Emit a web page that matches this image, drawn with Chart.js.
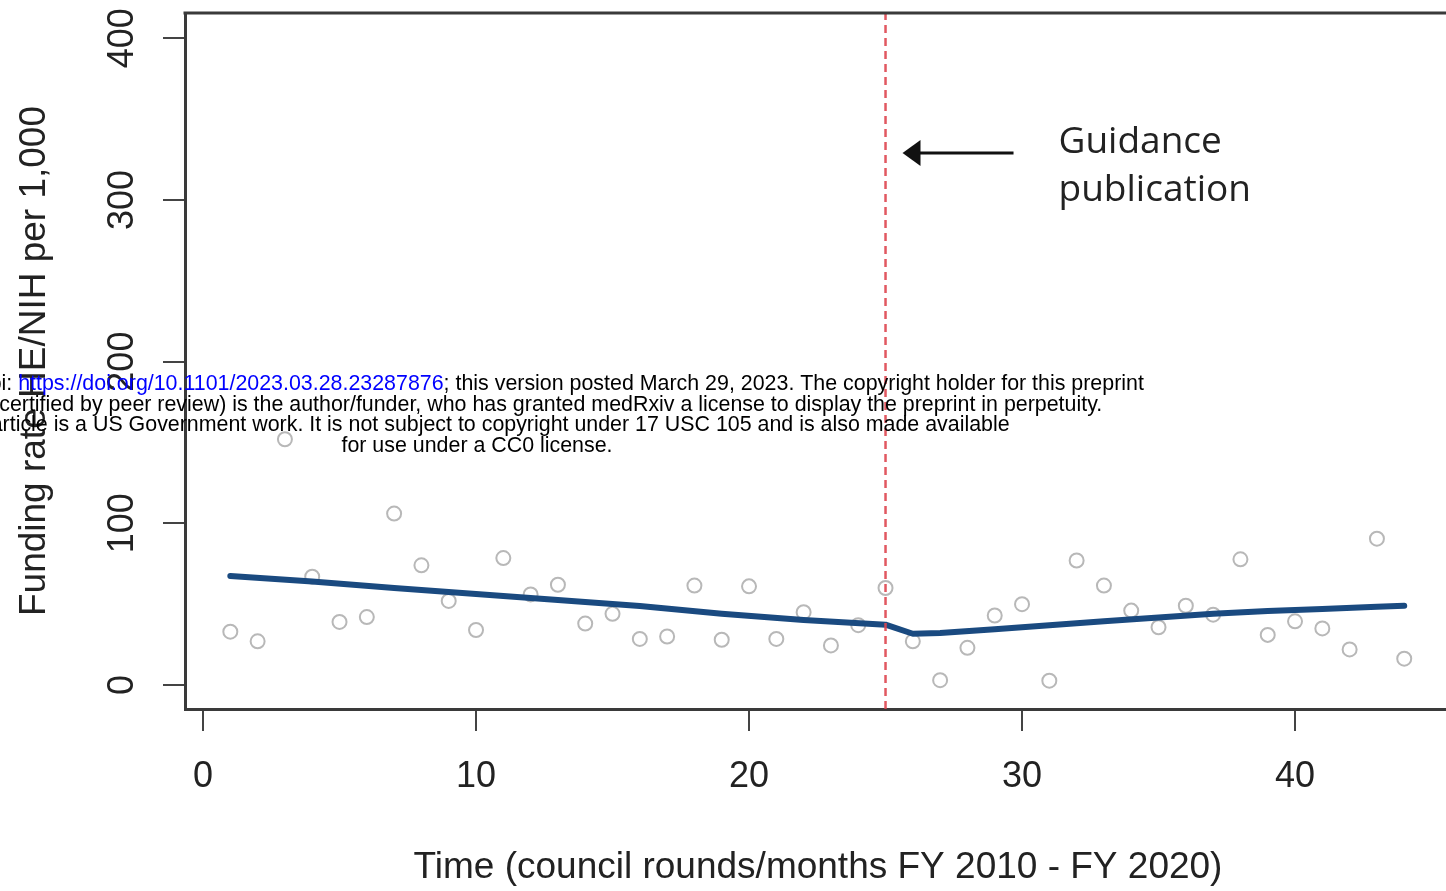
<!DOCTYPE html>
<html>
<head>
<meta charset="utf-8">
<script src="https://cdn.jsdelivr.net/npm/chart.js@4.4.1/dist/chart.umd.min.js"></script>
<style>
  html, body { margin: 0; padding: 0; background: #fff; overflow: hidden; }
  #wrap { position: relative; width: 1446px; height: 891px; }
</style>
</head>
<body>
<div id="wrap"><canvas id="chart"></canvas></div>
<script>
// council rounds and observed funding rate (HE/NIH per 1,000)
const rounds = [1, 2, 3, 4, 5, 6, 7, 8, 9, 10, 11, 12, 13, 14, 15, 16, 17, 18, 19, 20, 21, 22,
  23, 24, 25, 26, 27, 28, 29, 30, 31, 32, 33, 34, 35, 36, 37, 38, 39, 40, 41, 42, 43, 44];
const fundingRate = [33, 27, 152, 67, 39, 42, 106, 74, 52, 34, 78.5, 56, 62, 38, 44, 28.5, 30, 61.5, 28, 61, 28.5, 45,
  24.5, 37, 60, 27, 3, 23, 43, 50, 2.7, 77, 61.5, 46, 35.7, 49, 43.5, 77.7, 31, 39.4, 35, 22, 90.5, 16.3];

// fitted segmented trend, read at selected rounds
const trendRounds = [1, 4, 7, 10, 13, 16, 19, 22, 25, 26, 27, 29, 31, 33, 35, 37, 39, 41, 43, 44];
const trendRate = [67.4, 64, 60, 56.3, 52.6, 48.9, 44, 40.2, 37.3, 31.7, 32.2, 34.5, 37, 39.5, 41.8, 44, 45.8, 47, 48.4, 49];

const guidanceRound = 25;
const xTicks = [0, 10, 20, 30, 40];
const yTicks = [0, 100, 200, 300, 400];

const xTitle = "Time (council rounds/months FY 2010 - FY 2020)";
const yTitle = "Funding rate HE/NIH per 1,000";
const noteLines = ["Guidance", "publication"];
const stampLines = [
  ["medRxiv preprint doi: ", "https://doi.org/10.1101/2023.03.28.23287876", "; this version posted March 29, 2023. The copyright holder for this preprint"],
  ["(which was not certified by peer review) is the author/funder, who has granted medRxiv a license to display the preprint in perpetuity."],
  ["This article is a US Government work. It is not subject to copyright under 17 USC 105 and is also made available"],
  ["for use under a CC0 license."],
];

const R_FONT = "'Liberation Sans', Arial, sans-serif";
const NOTE_FONT = "'Open Sans', sans-serif";
const INK = "#222";
const AXIS = "#3a3a3a";

const decor = {
  id: "decor",
  afterDraw(chart) {
    const { ctx, chartArea: a, scales: { x, y } } = chart;
    ctx.save();

    // top edge of the plot box
    ctx.strokeStyle = AXIS;
    ctx.lineWidth = 3;
    ctx.beginPath();
    ctx.moveTo(a.left - 1.5, a.top);
    ctx.lineTo(a.right, a.top);
    ctx.stroke();

    // y tick labels, parallel to the axis
    ctx.fillStyle = INK;
    ctx.font = `36px ${R_FONT}`;
    ctx.textAlign = "center";
    ctx.textBaseline = "alphabetic";
    for (const v of yTicks) {
      ctx.save();
      ctx.translate(a.left - 52, y.getPixelForValue(v));
      ctx.rotate(-Math.PI / 2);
      ctx.fillText(String(v), 0, 0);
      ctx.restore();
    }

    // y title
    ctx.save();
    ctx.font = `37px ${R_FONT}`;
    ctx.translate(45, (a.top + a.bottom) / 2);
    ctx.rotate(-Math.PI / 2);
    ctx.fillText(yTitle, 0, 0);
    ctx.restore();

    // x title
    ctx.font = `37px ${R_FONT}`;
    ctx.fillText(xTitle, a.left + 633, 878);

    // annotation arrow + note
    const gx = x.getPixelForValue(guidanceRound);
    const ay = a.top + 140;
    ctx.strokeStyle = "#111";
    ctx.fillStyle = "#111";
    ctx.lineWidth = 3;
    ctx.beginPath();
    ctx.moveTo(gx + 128, ay);
    ctx.lineTo(gx + 30, ay);
    ctx.stroke();
    ctx.beginPath();
    ctx.moveTo(gx + 17, ay);
    ctx.lineTo(gx + 35, ay - 13);
    ctx.lineTo(gx + 35, ay + 13);
    ctx.closePath();
    ctx.fill();

    ctx.fillStyle = INK;
    ctx.font = `37px ${NOTE_FONT}`;
    ctx.textAlign = "left";
    ctx.fillText(noteLines[0], gx + 173, a.top + 140);
    ctx.fillText(noteLines[1], gx + 173, a.top + 188);

    // preprint stamp overlaid on the page
    ctx.font = `21.4px ${R_FONT}`;
    ctx.textAlign = "left";
    const cx = 477;
    stampLines.forEach((parts, i) => {
      const full = parts.join("");
      let px = cx - ctx.measureText(full).width / 2;
      const by = 390 + i * 20.7;
      parts.forEach((p, j) => {
        ctx.fillStyle = parts.length === 3 && j === 1 ? "#0000ff" : "#000";
        ctx.fillText(p, px, by);
        px += ctx.measureText(p).width;
      });
    });

    ctx.restore();
  }
};

const points = rounds.map((r, i) => ({ x: r, y: fundingRate[i] }));
const trend = trendRounds.map((r, i) => ({ x: r, y: trendRate[i] }));

const X_MIN = -0.66, X_MAX = 45.53;
const Y_MIN = -14.84, Y_MAX = 415.6;

new Chart(document.getElementById("chart"), {
  type: "scatter",
  data: {
    datasets: [
      {
        label: "Guidance publication",
        type: "line",
        data: [{ x: guidanceRound, y: Y_MIN }, { x: guidanceRound, y: Y_MAX }],
        borderColor: "rgba(222, 70, 80, 0.9)",
        borderWidth: 2.5,
        borderDash: [8, 5],
        pointRadius: 0,
        fill: false,
      },
      {
        label: "Trend",
        type: "line",
        data: trend,
        borderColor: "#1a4a80",
        borderWidth: 6,
        pointRadius: 0,
        borderCapStyle: "round",
        borderJoinStyle: "round",
        tension: 0,
        fill: false,
      },
      {
        label: "Funding rate",
        data: points,
        pointRadius: 7,
        pointBorderWidth: 2,
        pointBorderColor: "#b8b8b8",
        pointBackgroundColor: "rgba(0,0,0,0)",
      },
    ],
  },
  options: {
    responsive: true,
    maintainAspectRatio: false,
    animation: false,
    events: [],
    layout: { autoPadding: false, padding: { top: 13, right: 0, bottom: 0, left: 0 } },
    plugins: { legend: { display: false }, tooltip: { enabled: false } },
    scales: {
      x: {
        type: "linear",
        min: X_MIN,
        max: X_MAX,
        afterBuildTicks: s => { s.ticks = xTicks.map(v => ({ value: v })); },
        afterFit: s => { s.height = 182; },
        grid: { drawOnChartArea: false, drawTicks: true, tickLength: 22, color: "#444", lineWidth: 2 },
        border: { display: true, color: AXIS, width: 3 },
        ticks: { padding: 24, color: INK, font: { family: R_FONT, size: 36 }, maxRotation: 0 },
      },
      y: {
        type: "linear",
        min: Y_MIN,
        max: Y_MAX,
        afterBuildTicks: s => { s.ticks = yTicks.map(v => ({ value: v })); },
        afterFit: s => { s.width = 185; },
        grid: { drawOnChartArea: false, drawTicks: true, tickLength: 22, color: "#444", lineWidth: 2 },
        border: { display: true, color: AXIS, width: 3 },
        ticks: { display: false },
      },
    },
  },
  plugins: [decor],
});
</script>
</body>
</html>
